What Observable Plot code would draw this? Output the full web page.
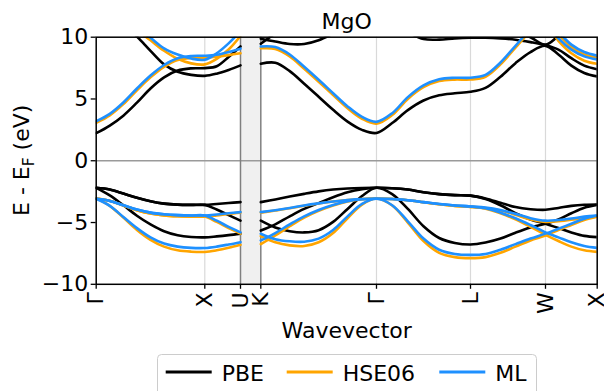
<!DOCTYPE html>
<html><head><meta charset="utf-8">
<script src="https://cdn.jsdelivr.net/npm/d3@7"></script>
<script src="https://cdn.jsdelivr.net/npm/@observablehq/plot@0.6"></script>
<style>
body{margin:0;background:#fff;font-family:"DejaVu Sans",sans-serif;}
#wrap{position:relative;width:604px;height:391px;overflow:hidden;background:#fff;}
#legend{position:absolute;left:157px;top:354px;}
</style></head><body><div id="wrap"><div id="chart"></div><div id="legend"></div></div>
<script>
// High-symmetry points (path distance) and labels
const kTicks = [0, 1.0, 1.3287, 1.5157, 2.5810, 3.4466, 4.1372, 4.6133];
const kLabels = ["Γ", "X", "U", "K", "Γ", "L", "W", "X"];
const yTicks = [-10, -5, 0, 5, 10];
const methods = ["PBE", "HSE06", "ML"];
const colors = ["black", "orange", "dodgerblue"];

// Band energies (eV). Left part: Γ→X (8 steps), X→U (3 steps) = 12 samples
const pbeLeft = [
  [2.23, 2.85, 3.65, 4.7, 5.85, 6.75, 7.3, 7.48, 7.5, 7.65, 8.4, 9.25],
  [13.5, 12.3, 11.0, 10.05, 8.9, 7.8, 7.2, 6.95, 6.87, 7.05, 7.35, 7.72],
  [-2.19, -2.33, -2.66, -3.0, -3.28, -3.47, -3.55, -3.57, -3.57, -3.5, -3.42, -3.35],
  [-2.19, -2.33, -2.66, -3.0, -3.28, -3.47, -3.55, -3.57, -3.57, -3.95, -4.4, -4.85],
  [-2.19, -2.8, -3.6, -4.45, -5.15, -5.7, -6.03, -6.17, -6.2, -6.12, -6.02, -5.9]
];
const hseLeft = [
  [3.07, 3.67, 4.58, 5.7, 6.75, 7.6, 8.15, 8.33, 8.35, 8.42, 8.55, 8.7],
  [13.8, 12.8, 11.7, 10.6, 9.75, 8.9, 8.25, 7.88, 7.8, 8.25, 9.0, 10.1],
  [-3.05, -3.24, -3.62, -4.0, -4.27, -4.42, -4.49, -4.52, -4.52, -4.42, -4.3, -4.2],
  [-3.05, -3.24, -3.62, -4.0, -4.27, -4.42, -4.49, -4.52, -4.52, -4.95, -5.45, -5.9],
  [-3.05, -3.65, -4.6, -5.6, -6.4, -6.95, -7.25, -7.36, -7.38, -7.25, -7.05, -6.8]
];
const mlLeft = [
  [3.2, 3.8, 4.72, 5.85, 6.9, 7.75, 8.3, 8.48, 8.5, 8.58, 8.8, 9.07],
  [14.0, 13.0, 11.9, 10.8, 9.95, 9.1, 8.6, 8.27, 8.18, 8.7, 9.5, 10.5],
  [-3.08, -3.25, -3.6, -3.95, -4.2, -4.33, -4.4, -4.43, -4.43, -4.35, -4.25, -4.16],
  [-3.08, -3.25, -3.6, -3.95, -4.2, -4.33, -4.4, -4.43, -4.43, -4.85, -5.35, -5.8],
  [-3.08, -3.65, -4.55, -5.45, -6.2, -6.7, -6.95, -7.05, -7.06, -6.95, -6.78, -6.59]
];
// Right part: K→Γ (8), Γ→L (6), L→W (5), W→X (4) = 24 samples
const pbeRight = [
  [7.85, 7.93, 7.25, 6.23, 5.18, 4.12, 3.17, 2.5, 2.25, 3.05, 4.1, 4.88, 5.3, 5.46, 5.58, 5.9, 6.8, 7.9, 8.8, 9.3, 8.6, 7.7, 7.1, 6.82],
  [9.88, 9.65, 9.45, 9.45, 9.75, 10.3, 10.9, 11.3, 11.4, 11.2, 10.4, 9.85, 9.8, 9.9, 9.95, 9.95, 9.9, 9.8, 9.6, 9.35, 9.0, 8.3, 7.7, 7.4],
  [9.47, 10.3, 11.0, 11.5, 11.8, 12.0, 12.0, 12.0, 12.0, 12.0, 12.0, 11.8, 11.5, 11.2, 11.0, 10.9, 10.8, 10.5, 10.0, 9.4, 10.1, 10.8, 11.3, 11.5],
  [-3.35, -3.13, -2.9, -2.68, -2.48, -2.33, -2.24, -2.2, -2.19, -2.22, -2.33, -2.55, -2.7, -2.78, -2.82, -3.05, -3.4, -3.75, -3.92, -3.97, -3.82, -3.65, -3.56, -3.54],
  [-5.65, -5.15, -4.5, -3.9, -3.43, -2.95, -2.55, -2.3, -2.19, -2.22, -2.33, -2.55, -2.7, -2.78, -2.82, -3.1, -3.6, -4.25, -4.75, -5.1, -5.45, -5.8, -6.08, -6.18],
  [-4.85, -5.4, -5.7, -5.8, -5.62, -4.95, -3.9, -2.85, -2.19, -2.7, -3.9, -5.3, -6.25, -6.65, -6.78, -6.62, -6.3, -5.82, -5.4, -5.1, -4.75, -4.25, -3.8, -3.57]
];
const hseRight = [
  [9.1, 9.05, 8.45, 7.45, 6.4, 5.32, 4.25, 3.4, 3.0, 3.7, 5.0, 5.95, 6.45, 6.57, 6.57, 6.8, 7.8, 9.15, 10.45, 11.1, 9.7, 8.7, 8.1, 7.85],
  [10.8, 11.3, 11.8, 12.1, 12.3, 12.3, 12.2, 12.1, 12.0, 11.9, 11.7, 11.4, 11.1, 10.9, 10.8, 10.8, 10.9, 11.1, 11.2, 11.1, 10.2, 9.2, 8.6, 8.35],
  [-4.2, -4.03, -3.85, -3.64, -3.46, -3.3, -3.18, -3.1, -3.06, -3.1, -3.2, -3.36, -3.52, -3.65, -3.73, -3.82, -4.03, -4.37, -4.75, -4.95, -4.9, -4.78, -4.62, -4.52],
  [-6.75, -6.05, -5.3, -4.6, -4.05, -3.62, -3.3, -3.12, -3.06, -3.1, -3.2, -3.36, -3.52, -3.65, -3.73, -3.88, -4.25, -4.75, -5.35, -6.0, -6.5, -6.95, -7.25, -7.38],
  [-6.1, -6.6, -6.85, -6.9, -6.6, -5.85, -4.65, -3.55, -3.06, -3.62, -5.0, -6.5, -7.45, -7.8, -7.88, -7.8, -7.45, -6.95, -6.45, -6.05, -5.6, -5.2, -4.8, -4.52]
];
const mlRight = [
  [9.25, 9.2, 8.6, 7.6, 6.55, 5.47, 4.4, 3.55, 3.15, 3.85, 5.15, 6.1, 6.6, 6.72, 6.72, 6.95, 7.95, 9.3, 10.6, 11.2, 9.9, 9.0, 8.45, 8.2],
  [11.0, 11.5, 12.0, 12.3, 12.5, 12.5, 12.4, 12.3, 12.2, 12.1, 11.9, 11.6, 11.3, 11.1, 11.0, 11.0, 11.1, 11.3, 11.4, 11.3, 10.4, 9.4, 8.8, 8.5],
  [-4.16, -4.0, -3.82, -3.62, -3.45, -3.3, -3.18, -3.1, -3.08, -3.1, -3.2, -3.35, -3.5, -3.62, -3.7, -3.78, -3.98, -4.3, -4.65, -4.85, -4.8, -4.68, -4.52, -4.43],
  [-6.45, -5.85, -5.15, -4.5, -3.98, -3.58, -3.28, -3.12, -3.08, -3.1, -3.2, -3.35, -3.5, -3.62, -3.7, -3.85, -4.2, -4.65, -5.2, -5.8, -6.2, -6.6, -6.9, -7.05],
  [-5.91, -6.35, -6.52, -6.55, -6.3, -5.6, -4.5, -3.5, -3.08, -3.6, -4.9, -6.3, -7.2, -7.55, -7.62, -7.55, -7.2, -6.75, -6.3, -5.9, -5.5, -5.1, -4.7, -4.43]
];

// k sample grids built from the high-symmetry points
function grid(start, steps) {
  const ks = [kTicks[start]];
  steps.forEach((n, s) => {
    const a = kTicks[start + s], b = kTicks[start + s + 1];
    for (let i = 1; i <= n; i++) ks.push(a + (b - a) * i / n);
  });
  return ks;
}
const kLeft = grid(0, [8, 3]);
const kRight = grid(3, [8, 6, 5, 4]);

const rows = [];
function addRows(method, side, bands) {
  const ks = side === "L" ? kLeft : kRight;
  bands.forEach((b, j) => b.forEach((e, i) => rows.push({method, band: method + side + j, k: ks[i], E: e})));
}
addRows("PBE", "L", pbeLeft); addRows("PBE", "R", pbeRight);
addRows("HSE06", "L", hseLeft); addRows("HSE06", "R", hseRight);
addRows("ML", "L", mlLeft); addRows("ML", "R", mlRight);

const fmt = d => d < 0 ? "\u2212" + Math.abs(d) : String(d);

const lineMarks = methods.map((m, i) => Plot.line(rows.filter(d => d.method === m), {
  x: "k", y: "E", z: "band", stroke: colors[i], strokeWidth: 2.6, curve: "catmull-rom", clip: true
}));

const chart = Plot.plot({
  width: 604, height: 350,
  marginLeft: 95.7, marginRight: 7.3, marginTop: 36.7, marginBottom: 66.2,
  style: {fontFamily: "DejaVu Sans", fontSize: "22px", background: "white", color: "black"},
  x: {domain: [kTicks[0], kTicks[7]], label: null},
  y: {domain: [-10, 10], label: null},
  marks: [
    Plot.rect([{x1: kTicks[2], x2: kTicks[3]}], {x1: "x1", x2: "x2", fill: "#f0f0f0"}),
    Plot.ruleX([kTicks[1], kTicks[4], kTicks[5], kTicks[6]], {stroke: "#d9d9d9", strokeWidth: 1.2}),
    Plot.ruleY([0], {stroke: "#9a9a9a", strokeWidth: 1.5}),
    Plot.ruleX([kTicks[2], kTicks[3]], {stroke: "#808080", strokeWidth: 1.5}),
    ...lineMarks,
    Plot.frame({stroke: "black", strokeWidth: 1.5}),
    Plot.axisY({ticks: yTicks, tickFormat: fmt, tickSize: 5, tickPadding: 3, label: null, strokeWidth: 1.3}),
    Plot.axisX({ticks: kTicks, tickFormat: d => kLabels[kTicks.indexOf(d)], tickRotate: -90, tickSize: 5, tickPadding: 3, label: null, strokeWidth: 1.3}),
    Plot.text(["MgO"], {frameAnchor: "top", dy: -8.5, lineAnchor: "bottom", fontSize: 22}),
    Plot.text(["Wavevector"], {frameAnchor: "bottom", dy: 54, lineAnchor: "bottom", fontSize: 22})
  ]
});
document.getElementById("chart").appendChild(chart);

// y-axis label with subscript
const yl = d3.select(chart).append("text")
  .attr("transform", "translate(29,160.3) rotate(-90)")
  .attr("text-anchor", "middle").attr("font-size", 22).attr("fill", "black")
  .attr("font-family", "DejaVu Sans");
yl.append("tspan").text("E - E");
yl.append("tspan").attr("font-size", 15.4).attr("dy", 4.5).text("F");
yl.append("tspan").attr("dy", -4.5).text("\u00a0(eV)");

// Legend
const leg = d3.select("#legend").append("svg").attr("width", 381).attr("height", 40);
leg.append("rect").attr("x", 0.5).attr("y", 0.5).attr("width", 379).attr("height", 60)
  .attr("rx", 4).attr("fill", "white").attr("stroke", "#cccccc");
const legX = [8.7, 129.7, 282.3];
methods.forEach((m, i) => {
  leg.append("line").attr("x1", legX[i]).attr("x2", legX[i] + 46).attr("y1", 18).attr("y2", 18)
    .attr("stroke", colors[i]).attr("stroke-width", 3);
  leg.append("text").attr("x", legX[i] + 56).attr("y", 26.5).attr("font-size", 22)
    .attr("font-family", "DejaVu Sans").attr("fill", "black").text(m);
});
</script></body></html>
